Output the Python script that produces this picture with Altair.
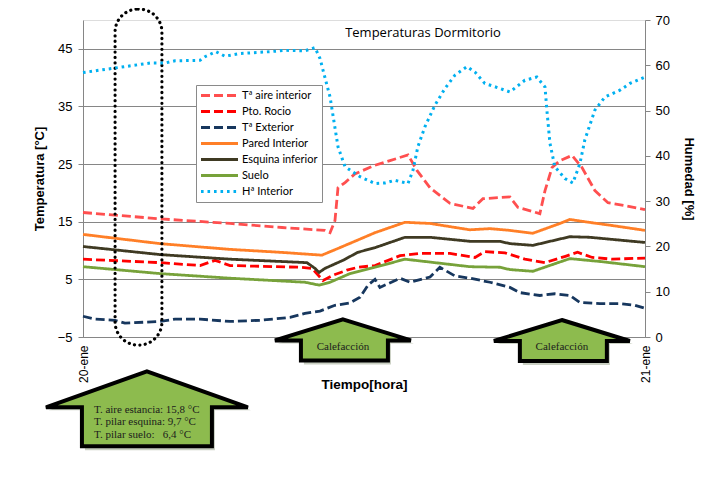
import altair as alt
import pandas as pd

SANS = "Open Sans"
SERIF = "Liberation Serif"

chart_title = "Temperaturas Dormitorio"
title_h = [14.52]
title_t = [47.8]

series_names = ["Tª aire interior", "Pto. Rocio", "Tª Exterior", "Pared Interior",
                "Esquina inferior", "Suelo", "Hª Interior"]
series_colors = ["#FF4F4F", "#FF0000", "#17375E", "#FF7F27", "#3F3A23", "#77A23A", "#00B0F0"]
series_dashes = [[9, 4], [9, 4], [9, 4], [1, 0], [1, 0], [1, 0], [2.6, 3.9]]

x_tick_labels = ["20-ene", "21-ene"]
temp_ticks = [-5, 5, 15, 25, 35, 45]
hum_ticks = [0, 10, 20, 30, 40, 50, 60, 70]

aire_h = [0.0, 1.5, 3.29, 6.28, 8.5, 10.33, 10.55, 10.76, 10.89, 11.19, 11.61, 12.47, 13.11, 13.88,
          14.26, 14.82, 15.67, 16.65, 17.08, 18.23, 18.57, 19.51, 19.73, 20.03, 20.37, 20.88,
          21.31, 21.86, 22.42, 23.14, 24.0]
aire_t = [16.6, 16.1, 15.5, 14.7, 14.0, 13.5, 13.1, 15.2, 20.9, 21.8, 23.3, 24.8, 25.6, 26.6,
          23.9, 20.9, 18.2, 17.3, 19.0, 19.3, 17.5, 16.4, 20.4, 24.4, 25.6, 26.5,
          24.4, 20.4, 18.3, 17.8, 17.1]

rocio_h = [0.0, 3.29, 5.0, 5.64, 6.28, 9.27, 9.78, 10.03, 10.25, 10.67, 11.27, 11.74, 12.47,
           13.54, 14.39, 15.67, 16.74, 17.16, 18.02, 18.87, 19.73, 20.6, 21.12, 21.75, 22.6, 24.0]
rocio_t = [8.5, 7.9, 7.4, 8.3, 7.4, 7.1, 6.9, 5.8, 4.8, 5.7, 6.6, 7.1, 7.4,
           9.1, 9.5, 9.5, 8.8, 9.8, 9.6, 8.5, 7.9, 9.0, 9.7, 8.8, 8.5, 8.7]

ext_h = [0.0, 0.51, 1.37, 1.79, 3.29, 3.93, 5.0, 6.28, 7.56, 8.84, 9.48, 10.12, 10.76, 11.4,
         11.83, 12.17, 12.47, 12.68, 13.54, 13.96, 14.82, 15.24, 15.88, 16.52, 17.38, 18.23,
         18.66, 19.51, 20.15, 20.79, 21.22, 22.08, 22.93, 23.57, 24.0]
ext_t = [-1.4, -1.9, -2.1, -2.6, -2.3, -1.9, -1.9, -2.3, -2.1, -1.6, -0.9, -0.5, 0.5, 0.9,
         1.9, 4.0, 5.0, 3.6, 5.2, 4.5, 5.4, 7.1, 5.6, 5.2, 4.5, 3.6,
         2.7, 2.2, 2.5, 2.2, 1.0, 0.8, 0.8, 0.5, 0.0]

pared_h = [0.0, 3.29, 6.28, 8.41, 10.2, 10.97, 12.47, 13.75, 14.82, 16.52, 17.38, 18.23, 19.21,
           20.37, 20.79, 21.43, 22.5, 24.0]
pared_t = [12.8, 11.2, 10.2, 9.7, 9.2, 10.5, 13.1, 14.9, 14.7, 13.6, 13.8, 13.5, 13.0,
           14.7, 15.4, 15.0, 14.4, 13.5]

esq_h = [0.0, 3.29, 6.28, 9.56, 9.91, 10.08, 10.33, 11.1, 11.74, 12.47, 13.75, 14.82, 16.52,
         17.8, 18.23, 19.21, 20.79, 21.64, 24.0]
esq_t = [10.7, 9.3, 8.5, 7.9, 6.9, 6.2, 6.9, 8.3, 9.7, 10.5, 12.3, 12.3, 11.6,
         11.6, 11.2, 10.9, 12.4, 12.3, 11.4]

suelo_h = [0.0, 3.29, 6.28, 9.48, 10.08, 10.55, 11.4, 12.47, 13.75, 15.24, 16.52, 17.8, 18.23,
           19.21, 20.79, 22.08, 24.0]
suelo_t = [7.2, 6.0, 5.2, 4.5, 4.0, 4.5, 6.0, 7.1, 8.5, 7.8, 7.2, 7.1, 6.7,
           6.4, 8.6, 8.1, 7.2]

hum_h = [0.0, 1.37, 2.86, 3.5, 3.93, 5.0, 5.21, 5.68, 6.06, 6.7, 7.98, 8.62, 9.48, 9.91, 10.12,
         10.55, 10.89, 11.19, 11.83, 12.47, 12.89, 13.32, 13.88, 14.09, 14.3, 14.6, 15.03, 15.46,
         15.88, 16.4, 16.74, 17.16, 17.8, 18.23, 18.87, 19.38, 19.73, 19.81, 19.94, 20.15, 20.58,
         20.92, 21.22, 21.43, 21.86, 22.29, 22.93, 23.36, 24.0]
hum_v = [58.4, 59.4, 60.5, 60.5, 61.0, 61.1, 61.9, 63.0, 62.0, 62.6, 63.0, 63.3, 63.2, 63.9, 61.5,
         53.0, 42.0, 37.6, 35.4, 33.9, 34.0, 34.6, 33.9, 36.8, 42.0, 46.4, 51.2, 54.9,
         57.8, 59.7, 58.5, 56.0, 54.9, 54.1, 56.7, 57.4, 55.2, 50.1, 42.8, 37.6, 35.0,
         34.0, 38.3, 43.5, 50.1, 53.0, 54.5, 56.0, 57.4]

# annotations (time in hours, temperature in degC)
oval_h = [1.37, 3.37]
oval_t = [51.9, -6.4]
heat_h = [11.1, 20.45]
heat_t = [-1.6, -1.7]
heat_label = ["Calefacción", "Calefacción"]
heat_label_t = [-6.8, -6.8]
big_h = [2.73]
big_t = [-10.6]
big_lines = ["T. aire estancia: 15,8 °C", "T. pilar esquina: 9,7 °C", "T. pilar suelo:\u00a0\u00a0 6,4 °C"]
big_text_h = [0.47]
big_text_t = [-17.6]

rows = []
for name, hs, vs in [(series_names[0], aire_h, aire_t), (series_names[1], rocio_h, rocio_t),
                     (series_names[2], ext_h, ext_t), (series_names[3], pared_h, pared_t),
                     (series_names[4], esq_h, esq_t), (series_names[5], suelo_h, suelo_t)]:
    for h, v in zip(hs, vs):
        rows.append({"serie": name, "hora": h, "valor": v})
temp_df = pd.DataFrame(rows)
hum_df = pd.DataFrame({"serie": series_names[6], "hora": hum_h, "valor": hum_v})

legend_def = alt.Legend(
    title=None, orient="none", legendX=113, legendY=65,
    symbolType="M-3.7,0L3.7,0", symbolSize=100, symbolStrokeWidth=3,
    symbolOffset=13, labelOffset=16, labelFont="Lato", labelFontSize=11, labelColor="black",
    fillColor="white", strokeColor="#8a8a8a", padding=4, rowPadding=3, labelLimit=200,
)
color_enc = alt.Color("serie:N", scale=alt.Scale(domain=series_names, range=series_colors), legend=legend_def)
dash_enc = alt.StrokeDash("serie:N", scale=alt.Scale(domain=series_names, range=series_dashes), legend=legend_def)

x_scale = alt.Scale(domain=[0, 24], nice=False, zero=False)
t_scale = alt.Scale(domain=[-5, 50], nice=False, zero=False)
h_scale = alt.Scale(domain=[0, 70], nice=False, zero=False)

label_expr = f"datum.value == 0 ? '{x_tick_labels[0]}' : '{x_tick_labels[1]}'"
x_enc = alt.X("hora:Q", scale=x_scale, axis=alt.Axis(
    values=[0, 24], labelExpr=label_expr, labelAngle=270, labelFontSize=12, labelPadding=8,
    grid=False, ticks=False, domainColor="#868686", title="Tiempo[hora]", titleFontSize=13.5,
    titleFontWeight="bold", titleY=40, titleX=281))

temp_lines = alt.Chart(temp_df).mark_line(strokeWidth=2.8).encode(
    x=x_enc,
    y=alt.Y("valor:Q", scale=t_scale, axis=alt.Axis(
        values=temp_ticks, grid=True, gridColor="#868686", domainColor="#868686",
        tickColor="#868686", tickSize=5, labelFontSize=13, labelPadding=6,
        title="Temperatura [°C]", titleFontSize=13, titleFontWeight="bold", titlePadding=11)),
    color=color_enc, strokeDash=dash_enc, detail="serie:N")

oval_df = pd.DataFrame({"h1": [oval_h[0]], "h2": [oval_h[1]], "t1": [oval_t[0]], "t2": [oval_t[1]]})
oval = alt.Chart(oval_df).mark_rect(
    fill=None, fillOpacity=0, stroke="black", strokeWidth=3.2, strokeDash=[0.1, 5.3],
    strokeCap="round", cornerRadius=23).encode(
    x=alt.X("h1:Q", scale=x_scale), x2="h2:Q",
    y=alt.Y("t1:Q", scale=t_scale), y2="t2:Q")

small_path = "M0,2L68,23L45,23L45,43L-42,43L-42,23L-68,23Z"
small_shadow = "M3,5L71,26L48,26L48,47L-39,47L-39,26L-65,26Z"
big_path = "M0,2L101,38L65,38L65,77L-65,77L-65,38L-101,38Z"
big_shadow = "M3,5L104,41L68,41L68,81L-62,81L-62,41L-98,41Z"

heat_df = pd.DataFrame({"hora": heat_h, "valor": heat_t})
big_df = pd.DataFrame({"hora": big_h, "valor": big_t})

def arrow(df, path, fill, stroke, sw):
    kw = dict(shape=path, size=4, filled=True, fill=fill, opacity=1)
    if stroke:
        kw.update(stroke=stroke, strokeWidth=sw, strokeJoin="miter")
    else:
        kw.update(strokeWidth=0)
    return alt.Chart(df).mark_point(**kw).encode(
        x=alt.X("hora:Q", scale=x_scale), y=alt.Y("valor:Q", scale=t_scale))

GREEN = "#8DBB4E"
arrows = [
    arrow(heat_df, small_shadow, "#c9cfc2", None, 0),
    arrow(heat_df, small_path, GREEN, "black", 4),
    arrow(big_df, big_shadow, "#c9cfc2", None, 0),
    arrow(big_df, big_path, GREEN, "black", 4),
]

heat_txt_df = pd.DataFrame({"hora": heat_h, "valor": heat_label_t, "txt": heat_label})
heat_txt = alt.Chart(heat_txt_df).mark_text(font=SERIF, fontSize=11, color="#1c1c1c",
                                            align="center", baseline="middle").encode(
    x=alt.X("hora:Q", scale=x_scale), y=alt.Y("valor:Q", scale=t_scale), text="txt:N")

big_txt_df = pd.DataFrame({"hora": big_text_h, "valor": big_text_t, "txt": ["\n".join(big_lines)]})
big_txt = alt.Chart(big_txt_df).mark_text(font=SERIF, fontSize=11, color="#1c1c1c",
                                          align="left", baseline="middle", lineBreak="\n",
                                          lineHeight=12.5).encode(
    x=alt.X("hora:Q", scale=x_scale), y=alt.Y("valor:Q", scale=t_scale), text="txt:N")

title_df = pd.DataFrame({"hora": title_h, "valor": title_t, "txt": [chart_title]})
title_txt = alt.Chart(title_df).mark_text(font=SANS, fontSize=13, color="black",
                                          align="center", baseline="middle").encode(
    x=alt.X("hora:Q", scale=x_scale), y=alt.Y("valor:Q", scale=t_scale), text="txt:N")

temp_layer = alt.layer(temp_lines, oval, *arrows, heat_txt, big_txt, title_txt)

hum_line = alt.Chart(hum_df).mark_line(strokeWidth=3).encode(
    x=alt.X("hora:Q", scale=x_scale),
    y=alt.Y("valor:Q", scale=h_scale, axis=alt.Axis(
        orient="right", values=hum_ticks, grid=False, domainColor="#868686",
        tickColor="#868686", tickSize=5, labelFontSize=13, labelPadding=5,
        title="Humedad [%]", titleFontSize=13, titleFontWeight="bold", titlePadding=12)),
    color=color_enc, strokeDash=dash_enc)

chart = alt.layer(temp_layer, hum_line).resolve_scale(y="independent").properties(
    width=562, height=317,
    autosize=alt.AutoSizeParams(type="none"),
    padding={"left": 75, "top": 12, "right": 55, "bottom": 130},
).configure_view(stroke="#868686", strokeWidth=1).configure_axis(
    labelFont=SANS, titleFont=SANS, labelColor="black", titleColor="black"
).configure(background="white")

chart.save("out.html", embed_options={"renderer": "svg", "actions": False})
